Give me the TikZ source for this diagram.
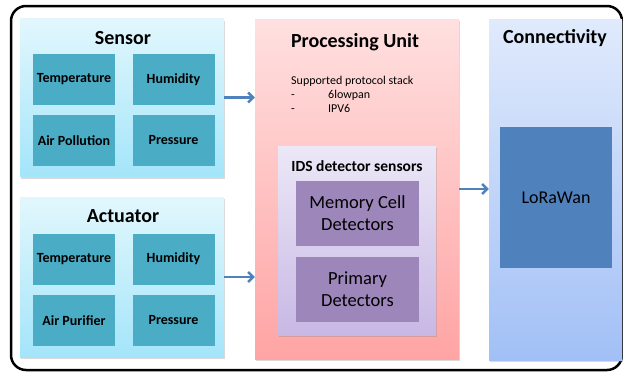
\documentclass[tikz,border=0pt]{standalone}
\usepackage{fontspec}
\setmainfont{Carlito}
\usetikzlibrary{shadows,arrows.meta}
\definecolor{aqua}{HTML}{4BACC6}
\definecolor{lora}{HTML}{4F81BD}
\definecolor{detect}{HTML}{9D86B9}
\definecolor{cyantop}{HTML}{E2F7FD}
\definecolor{cyanbot}{HTML}{A4E5FA}
\definecolor{redtop}{HTML}{FFE0E0}
\definecolor{redbot}{HTML}{FFA4A4}
\definecolor{idstop}{HTML}{ECE8F7}
\definecolor{idsbot}{HTML}{C8B8E4}
\definecolor{bluetop}{HTML}{E0EAFC}
\definecolor{bluebot}{HTML}{A2C0F6}
\begin{document}
\begin{tikzpicture}[x=1pt,y=-1pt]
	\tikzstyle{panel}=[inner sep=0,drop shadow={shadow xshift=1pt,shadow yshift=-2pt,opacity=0.3}]
	\tikzstyle{cyan panel}=[panel,top color=cyantop,bottom color=cyanbot,minimum width=204,minimum height=158]
	\tikzstyle{cell}=[fill=aqua,inner sep=0,minimum width=82,minimum height=51,font=\bfseries\fontsize{14}{16}\selectfont]
	\tikzstyle{detector}=[fill=detect,inner sep=0,minimum width=123,minimum height=65,align=center,font=\fontsize{18.5}{22}\selectfont]
	\tikzstyle{title}=[font=\bfseries\fontsize{20}{22}\selectfont]
	\tikzstyle{link}=[draw=lora,line width=2.5pt,-{Straight Barb[length=5pt,width=10pt]}]
	\useasboundingbox(0,0)rectangle(623,373);
	\node(frame)[draw,line width=2.5pt,rounded corners=15pt,minimum width=611,minimum height=364,inner sep=0]at(316.5,188){};
	% sensor and actuator
	\node(sensor)[cyan panel]at(122,97.5){};
	\node[title]at(123,38){Sensor};
	\node(s1)[cell]at(74,79.5){Temperature};
	\node(s2)[cell]at(173.5,79.5){Humidity};
	\node(s3)[cell]at(74,140.5){Air Pollution};
	\node(s4)[cell]at(173.5,140.5){Pressure};
	\node(actuator)[cyan panel,minimum height=160]at(122,277){};
	\node[title]at(123,216){Actuator};
	\node(a1)[cell]at(74,259){Temperature};
	\node(a2)[cell]at(173.5,259){Humidity};
	\node(a3)[cell]at(74,320.5){Air Purifier};
	\node(a4)[cell]at(173.5,320.5){Pressure};
	% processing unit
	\node(pu)[panel,top color=redtop,bottom color=redbot,minimum width=204,minimum height=340]at(357,189){};
	\node[title]at(355,42){Processing Unit};
	\node(stack)[anchor=north west,inner sep=0,align=left,font=\fontsize{12}{14}\selectfont]at(291,75.5){Supported protocol stack\\\makebox[37pt][l]{-}6lowpan\\\makebox[37pt][l]{-}IPV6};
	\node(ids)[panel,top color=idstop,bottom color=idsbot,minimum width=158,minimum height=189]at(357,240.5){};
	\node[font=\bfseries\fontsize{15.5}{18}\selectfont]at(357,166){IDS detector sensors};
	\node(mem)[detector]at(357.5,213.5){Memory Cell\\Detectors};
	\node(prim)[detector]at(357.5,289){Primary\\Detectors};
	% connectivity
	\node(conn)[panel,top color=bluetop,bottom color=bluebot,minimum width=133,minimum height=341]at(555.5,189.5){};
	\node[title]at(555,38){Connectivity};
	\node(lora)[fill=lora,inner sep=0,minimum width=112,minimum height=141,font=\fontsize{18}{20}\selectfont]at(556,197.5){LoRaWan};
	% links
	\draw[link](sensor)--(sensor-|pu.west);
	\draw[link](actuator)--(actuator-|pu.west);
	\draw[link](pu)--(pu-|conn.west);
\end{tikzpicture}
\end{document}
